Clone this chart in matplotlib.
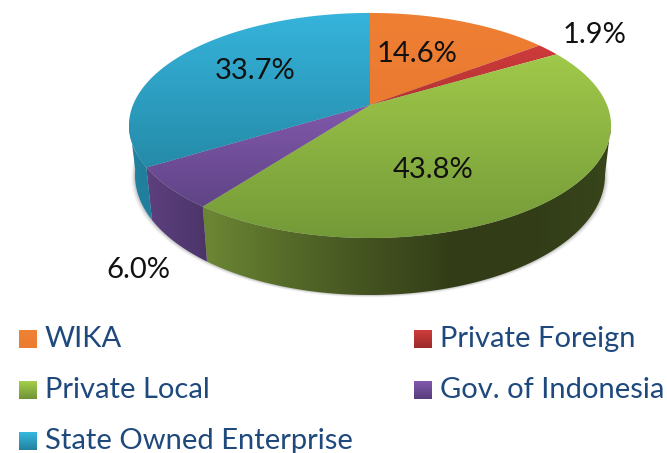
import numpy as np
import matplotlib
matplotlib.use("Agg")
import matplotlib.pyplot as plt
from matplotlib.patches import Polygon
from matplotlib.colors import LinearSegmentedColormap

categories = ["WIKA", "Private Foreign", "Private Local", "Gov. of Indonesia", "State Owned Enterprise"]
shares = [14.6, 1.9, 43.8, 6.0, 33.7]
labels = ["14.6%", "1.9%", "43.8%", "6.0%", "33.7%"]

top_cols = [("#ee7f33", "#e97a30"), ("#cf3b3b", "#b23232"), ("#a0c94a", "#749a38"),
            ("#8158ab", "#5f4486"), ("#36b4dc", "#258ba9")]
side_cols = [("#b05a22", "#8a4518"), ("#8a2a2a", "#6a2020"),
             ("#6c8734", "#566b29", "#445320", "#333e18", "#323d18", "#38451a"),
             ("#5d4180", "#4c3468"), ("#23819e", "#1f7f9c")]
leg_cols = [("#f08236", "#ea7b2f"), ("#d03c3c", "#9c2b2b"), ("#a5cf4c", "#6f9335"),
            ("#8159ad", "#573e7c"), ("#38b8e0", "#23819e")]
label_pos = [(417, 54), (595, 35), (433, 170), (138, 270), (255, 71)]
leg_pos = [(19, 330), (414, 330), (19, 381), (414, 381), (19, 432)]

cx, cy = 370, 105
a, b, k = 237, 108.8, 0.182
dep_x, dep_y, dep_off = 0.975, 1.064, 48.5


def rim(phi):
    # top face outline, perspective squeezed towards the back
    c, s = np.sin(phi), -np.cos(phi)
    d = 1 - k * s
    return a * c / d, b * s / d


def grad_fill(ax, poly, cols, horizontal=False):
    xs, ys = poly[:, 0], poly[:, 1]
    cmap = LinearSegmentedColormap.from_list("g", list(cols))
    g = np.linspace(0, 1, 256)
    g = g[None, :] if horizontal else g[:, None]
    im = ax.imshow(g, cmap=cmap, extent=(xs.min(), xs.max(), ys.max(), ys.min()),
                   aspect="auto", zorder=ax.zorder_next, interpolation="bilinear")
    p = Polygon(poly, closed=True, transform=ax.transData, fc="none", ec="none")
    ax.add_patch(p)
    im.set_clip_path(p)
    ax.zorder_next += 1


fig = plt.figure(figsize=(6.67, 4.53), dpi=100)
ax = fig.add_axes([0, 0, 1, 1])
ax.zorder_next = 3
ax.set_xlim(0, 667)
ax.set_ylim(453, 0)
ax.axis("off")

edges = np.concatenate([[0], np.cumsum(shares)]) / sum(shares) * 2 * np.pi

# soft shadow under the lower rim
tt = np.linspace(0, 2 * np.pi, 300)
sx, sy = rim(tt)
for grow, al in zip([4, 3, 2, 1], [0.04, 0.06, 0.09, 0.12]):
    ax.fill(cx + sx * dep_x * (1 + grow / 240), cy + dep_off + sy * dep_y + grow * 0.6,
            color="#404040", alpha=al, lw=0, zorder=1)

# side walls, only the part of the rim that faces the viewer
wall_a, wall_b = np.radians(100), np.radians(262)
for i in range(len(shares)):
    lo, hi = max(edges[i], wall_a), min(edges[i + 1], wall_b)
    if hi <= lo:
        continue
    t = np.linspace(lo, hi, 120)
    x, y = rim(t)
    upper = np.c_[cx + x, cy + y]
    lower = np.c_[cx + x * dep_x, cy + dep_off + y * dep_y][::-1]
    grad_fill(ax, np.r_[upper, lower], side_cols[i], horizontal=True)

# top faces
for i in range(len(shares)):
    t = np.linspace(edges[i], edges[i + 1], 200)
    x, y = rim(t)
    poly = np.r_[[[cx, cy]], np.c_[cx + x, cy + y]]
    grad_fill(ax, poly, top_cols[i])

for (lx, ly), s in zip(label_pos, labels):
    ax.text(lx, ly, s, ha="center", va="center", fontsize=21, family="Lato", color="#111111", zorder=50)

# legend
for i, name in enumerate(categories):
    px, py = leg_pos[i]
    sq = np.array([[px, py], [px + 18, py], [px + 18, py + 18], [px, py + 18]], dtype=float)
    grad_fill(ax, sq, leg_cols[i])
    ax.text(px + 26, py + 9, name, ha="left", va="center", fontsize=21, family="Lato",
            color="#1f497d", zorder=50)

ax.set_xlim(0, 667)
ax.set_ylim(453, 0)
fig.savefig("out.png", dpi=100)
